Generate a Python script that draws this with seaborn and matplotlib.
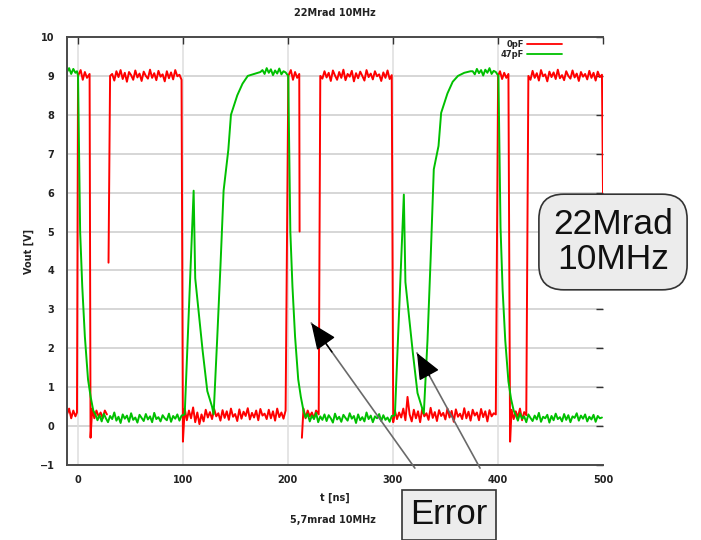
import numpy as np
import pandas as pd
import matplotlib
matplotlib.use("Agg")
import matplotlib.pyplot as plt
from matplotlib.lines import Line2D
import seaborn as sns

nan = float("nan")

# ---- 0pF output (time in ns, voltage in V); NaN marks missing samples ----
red_t = ([-10, -8, -6, -4, -2, -0.5, 0.5, 3, 5, 7, 9, 11.5,
          12.4, 14, 16, 18, 20, 22, 24, 26, 28, 29, 29.5, 31]
         + list(range(33, 100, 2))
         + [100.3] + list(range(102, 199, 2))
         + [200.6, 203, 205, 207, 209, 211, 211.3, 211.6,
            213.5, 215, 217, 219, 221, 223, 225, 227, 229.5, 231]
         + list(range(233, 300, 2))
         + [300.4] + list(range(302, 399, 2))
         + [400.2, 402, 404, 406, 408, 410, 411.6,
            413, 415, 417, 419, 421, 423, 425, 427, 429]
         + list(range(431, 500, 2)) + [500])

red_v = ([0.30, 0.45, 0.20, 0.40, 0.25, 0.35, 9.00, 9.15, 8.90, 9.10, 8.95, 9.05,
          -0.30, 0.45, 0.20, 0.40, 0.25, 0.35, 0.20, 0.40, 0.30, nan, 4.20, 9.00]
         + [9.05, 8.88, 9.12, 8.97, 9.15, 8.92, 9.08, 8.85, 9.10, 9.02, 8.90, 9.14,
            8.96, 9.06, 8.87, 9.11, 9.00, 8.93, 9.16, 8.95, 9.07, 8.89, 9.13, 8.98,
            9.04, 8.86, 9.12, 8.94, 9.09, 8.91, 9.15, 8.99, 9.03, 8.90]
         + [-0.40]
         + [0.45, 0.15, 0.40, 0.20, 0.48, 0.10, 0.35, 0.05, 0.30, 0.12, 0.42, 0.22,
            0.36, 0.18, 0.44, 0.25, 0.33, 0.14, 0.41, 0.21, 0.38, 0.16, 0.45, 0.24,
            0.31, 0.13, 0.43, 0.19, 0.37, 0.26, 0.46, 0.17, 0.34, 0.22, 0.40, 0.15,
            0.44, 0.27, 0.32, 0.18, 0.42, 0.20, 0.38, 0.14, 0.45, 0.23, 0.35, 0.19,
            0.40]
         + [9.00, 9.15, 8.90, 9.10, 8.95, 9.05, 5.00, nan,
            -0.30, 0.45, 0.20, 0.40, 0.25, 0.35, 0.20, 0.40, 0.30, 9.00]
         + [8.93, 9.12, 8.96, 9.08, 8.87, 9.14, 9.01, 8.90, 9.10, 8.95, 9.16, 8.89,
            9.05, 8.98, 9.13, 8.86, 9.07, 8.94, 9.11, 9.00, 8.88, 9.15, 8.97, 9.06,
            8.91, 9.12, 8.99, 9.04, 8.87, 9.09, 8.95, 9.14, 8.92, 9.02]
         + [0.10]
         + [0.40, 0.18, 0.35, 0.22, 0.45, 0.15, 0.75, 0.30, 0.12, 0.42, 0.20, 0.38,
            0.10, 0.44, 0.25, 0.33, 0.16, 0.47, 0.21, 0.36, 0.13, 0.41, 0.26, 0.34,
            0.17, 0.45, 0.22, 0.39, 0.11, 0.43, 0.24, 0.32, 0.18, 0.46, 0.20, 0.37,
            0.14, 0.42, 0.27, 0.35, 0.15, 0.44, 0.23, 0.38, 0.12, 0.41, 0.25, 0.33,
            0.30]
         + [9.00, 9.12, 8.92, 9.08, 8.95, 9.05, -0.40,
            0.42, 0.18, 0.38, 0.22, 0.45, 0.15, 0.36, 0.28, 9.00]
         + [8.90, 9.13, 8.95, 9.07, 8.88, 9.15, 8.99, 9.04, 8.86, 9.11, 8.97, 9.09,
            8.92, 9.16, 8.94, 9.02, 8.89, 9.12, 9.00, 8.93, 9.14, 8.96, 9.06, 8.87,
            9.10, 8.98, 9.05, 8.91, 9.13, 8.95, 9.08, 8.88, 9.11, 8.97, 9.03]
         + [6.00])

# ---- 47pF output ----
green_t = ([-10, -8, -6, -4, -2, -0.5, 0.5, 2.5, 4.5, 7, 10, 12.5, 15]
           + list(range(17, 100, 2))
           + [102, 110.5, 112, 119, 123.5, 128, 129.5, 133, 136, 139,
              143.5, 146, 152, 157, 162, 168, 174]
           + list(range(176, 199, 2))
           + [200.5, 202.5, 204.5, 207, 210, 212.5, 215]
           + list(range(217, 300, 2))
           + [302, 310.5, 312, 319, 323.5, 328, 329.5, 333, 336, 339,
              343.5, 346, 352, 357, 362, 368, 374]
           + list(range(376, 399, 2))
           + [400.5, 402.5, 404.5, 407, 410, 412.5, 415]
           + list(range(417, 500, 2)))

green_v = ([9.10, 9.20, 9.05, 9.18, 9.08, 9.12, 9.00, 5.00, 3.60, 2.30, 1.20, 0.75, 0.40]
           + [0.30, 0.15, 0.28, 0.12, 0.32, 0.20, 0.10, 0.26, 0.18, 0.35, 0.14, 0.24,
              0.08, 0.30, 0.19, 0.27, 0.11, 0.33, 0.16, 0.22, 0.09, 0.29, 0.21, 0.13,
              0.31, 0.17, 0.25, 0.10, 0.34, 0.18, 0.23, 0.12, 0.28, 0.20, 0.15, 0.32,
              0.11, 0.26, 0.19, 0.30, 0.14, 0.27]
           + [0.30, 6.05, 3.80, 1.95, 0.90, 0.50, 0.30, 2.30, 4.10, 6.05,
              7.10, 8.00, 8.50, 8.80, 9.00, 9.05, 9.10]
           + [9.15, 9.05, 9.20, 9.08, 9.17, 9.02, 9.14, 9.06, 9.19, 9.04, 9.12, 9.09]
           + [9.00, 5.00, 3.60, 2.30, 1.20, 0.75, 0.40]
           + [0.22, 0.31, 0.12, 0.27, 0.18, 0.34, 0.10, 0.25, 0.16, 0.30, 0.13, 0.28,
              0.20, 0.09, 0.32, 0.17, 0.24, 0.11, 0.29, 0.21, 0.14, 0.33, 0.19, 0.26,
              0.08, 0.30, 0.15, 0.23, 0.12, 0.35, 0.18, 0.27, 0.10, 0.25, 0.20, 0.31,
              0.13, 0.28, 0.16, 0.22, 0.11, 0.26]
           + [0.28, 5.95, 3.70, 1.90, 0.85, 0.45, 0.32, 2.20, 4.30, 6.60,
              7.20, 8.05, 8.55, 8.85, 9.00, 9.08, 9.12]
           + [9.12, 9.04, 9.18, 9.07, 9.15, 9.01, 9.16, 9.08, 9.20, 9.05, 9.13, 9.10]
           + [9.00, 5.10, 3.50, 2.20, 1.15, 0.70, 0.40]
           + [0.28, 0.14, 0.33, 0.19, 0.25, 0.10, 0.30, 0.21, 0.13, 0.27, 0.17, 0.34,
              0.11, 0.24, 0.20, 0.29, 0.09, 0.26, 0.15, 0.32, 0.18, 0.23, 0.12, 0.31,
              0.16, 0.28, 0.10, 0.25, 0.21, 0.33, 0.14, 0.27, 0.19, 0.30, 0.12, 0.24,
              0.17, 0.29, 0.11, 0.26, 0.20, 0.22])

series_names = ["0pF", "47pF"]
series_colors = ["#ff0000", "#00c000"]
x_ticks = [0, 100, 200, 300, 400, 500]
y_ticks = list(range(-1, 11))

# call-out arrows: (tip, tail) in data units
arrow_tips = [(222.4, 2.65), (323.0, 1.88)]
arrow_tails = [(321.0, -1.08), (383.0, -1.08)]


def trace_frame(t, v):
    df = pd.DataFrame({"t": t, "v": v})
    df["seg"] = df["v"].isna().cumsum()
    return df.dropna()


sns.set_theme(style="white")
plt.rcParams["font.family"] = ["DejaVu Sans"]

fig = plt.figure(figsize=(7.01, 5.40), dpi=100)
ax = fig.add_axes([67 / 701, 1 - 465 / 540, (603 - 67) / 701, (465 - 37) / 540])

# grid
for y in range(0, 10):
    ax.axhline(y, color="#cccccc", lw=1.1, zorder=0)
for x in x_ticks[:-1]:
    ax.axvline(x, color="#dedede", lw=1.1, zorder=0)

for (t, v), name, col in zip([(red_t, red_v), (green_t, green_v)], series_names, series_colors):
    sns.lineplot(data=trace_frame(t, v), x="t", y="v", units="seg", estimator=None,
                 sort=False, color=col, lw=1.4, ax=ax, legend=False, zorder=2)

ax.set_xlim(-10, 500)
ax.set_ylim(-1, 10)
ax.set_xticks(x_ticks)
ax.set_yticks(y_ticks)

for side in ["left", "top", "bottom"]:
    ax.spines[side].set_color("#4a4a4a")
    ax.spines[side].set_linewidth(1.4)
ax.spines["right"].set_visible(False)

ax.tick_params(direction="in", length=5, width=1, color="#333333",
               top=True, right=True, labelsize=7, labelcolor="#222222")
ax.tick_params(axis="y", pad=9)
ax.tick_params(axis="x", pad=7)
for lab in ax.get_xticklabels() + ax.get_yticklabels():
    lab.set_fontweight("bold")

ax.set_title("22Mrad 10MHz", fontsize=7, fontweight="bold", pad=15, color="#222222")
ax.set_xlabel("t [ns]", fontsize=7, fontweight="bold", color="#222222")
ax.set_ylabel("Vout [V]", fontsize=7, fontweight="bold", color="#222222")
ax.xaxis.set_label_coords(0.5, -0.065)
ax.yaxis.set_label_coords(-0.0625, 0.5)

handles = [Line2D([], [], color=c, lw=1.3) for c in series_colors]
ax.legend(handles, series_names, loc="upper right", bbox_to_anchor=(0.925, 0.995),
          markerfirst=False, frameon=False, handlelength=4.2,
          handletextpad=0.4, labelspacing=0.15, borderpad=0.1, borderaxespad=0,
          prop={"weight": "bold", "size": 6})

fig.text(333 / 701, 1 - 520 / 540, "5,7mrad 10MHz", ha="center", va="center",
         fontsize=7, fontweight="bold", color="#222222")

# call-outs
fig.text(613 / 701, 1 - 242 / 540, "22Mrad\n10MHz", ha="center", va="center",
         fontsize=25.5, family="Liberation Sans", linespacing=1.05, color="#111111",
         bbox=dict(boxstyle="round,pad=0.4,rounding_size=0.7", fc="#ececec",
                   ec="#333333", lw=1.2), zorder=5)
fig.text(449 / 701, 1 - 515 / 540, "Error", ha="center", va="center",
         fontsize=25, family="Liberation Sans", color="#111111",
         bbox=dict(boxstyle="square,pad=0.25", fc="#ececec", ec="#333333", lw=1.2),
         zorder=5)

for (tx, ty), (sx, sy) in zip(arrow_tips, arrow_tails):
    # grey shaft
    ax.annotate("", xy=(tx, ty), xytext=(sx, sy), annotation_clip=False,
                arrowprops=dict(arrowstyle="-", color="#6a6a6a", lw=1.2,
                                shrinkA=0, shrinkB=0))
    # solid black head
    hx, hy = tx + 0.2 * (sx - tx), ty + 0.2 * (sy - ty)
    ax.annotate("", xy=(tx, ty), xytext=(hx, hy), annotation_clip=False,
                arrowprops=dict(arrowstyle="-|>,head_length=0.75,head_width=0.32",
                                mutation_scale=22, fc="black", ec="black", lw=1.0,
                                shrinkA=0, shrinkB=0))

fig.savefig("out.png", dpi=100)
